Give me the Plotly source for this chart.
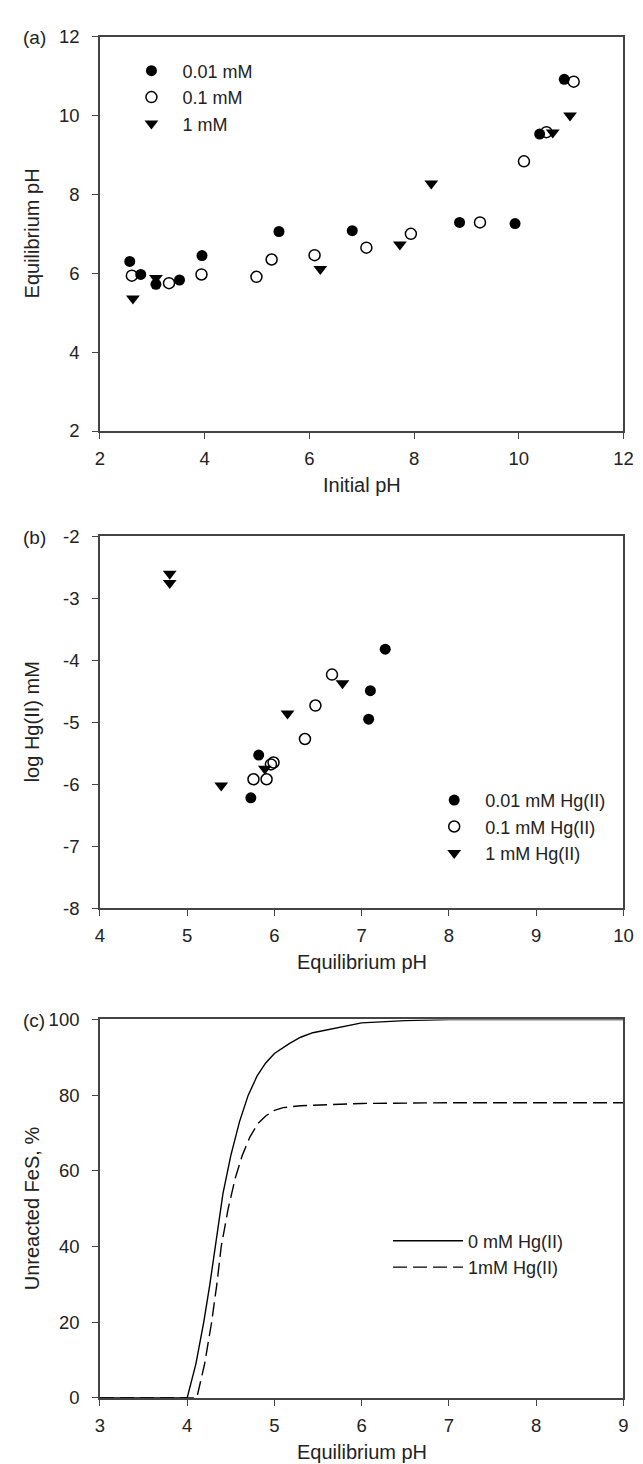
import plotly.graph_objects as go

# ---------------- Panel (a): Initial pH vs Equilibrium pH ----------------
a_001_x = [2.57, 2.78, 3.07, 3.52, 3.95, 5.42, 6.82, 8.87, 9.93, 10.40, 10.87]
a_001_y = [6.30, 5.97, 5.72, 5.83, 6.45, 7.06, 7.08, 7.29, 7.26, 9.53, 10.92]
a_01_x = [2.61, 3.32, 3.94, 4.99, 5.28, 6.10, 7.09, 7.94, 9.26, 10.10, 10.53, 11.05]
a_01_y = [5.94, 5.75, 5.97, 5.91, 6.35, 6.46, 6.65, 7.00, 7.29, 8.84, 9.58, 10.86]
a_1_x = [2.63, 3.07, 6.21, 7.73, 8.33, 10.65, 10.98]
a_1_y = [5.36, 5.88, 6.11, 6.73, 8.28, 9.57, 10.00]

# ---------------- Panel (b): Equilibrium pH vs log Hg(II) ----------------
b_001_x = [5.73, 5.82, 7.08, 7.10, 7.27]
b_001_y = [-6.22, -5.53, -4.95, -4.49, -3.82]
b_01_x = [5.76, 5.91, 5.96, 5.99, 6.35, 6.47, 6.66]
b_01_y = [-5.92, -5.92, -5.68, -5.65, -5.27, -4.73, -4.23]
b_1_x = [4.80, 4.80, 5.39, 5.89, 6.15, 6.78]
b_1_y = [-2.60, -2.75, -6.02, -5.75, -4.86, -4.37]
b_yticks = [-8, -7, -6, -5, -4, -3, -2]
b_yticklabels = ["-8", "-7", "-6", "-5", "-4", "-3", "-2"]

# ---------------- Panel (c): Unreacted FeS curves ----------------
c0_x = [3.0, 4.0, 4.1, 4.19, 4.26, 4.32, 4.41, 4.5, 4.6, 4.7, 4.8, 4.9, 5.0, 5.17, 5.3,
        5.44, 5.7, 6.0, 6.5, 7.0, 9.0]
c0_y = [0, 0, 9, 20, 30, 40, 54, 64, 73, 80, 85, 88.5, 91, 93.6, 95.3,
        96.5, 97.8, 99.1, 99.7, 100, 100]
c1_x = [3.0, 4.11, 4.2, 4.28, 4.34, 4.39, 4.47, 4.55, 4.63, 4.72, 4.81, 4.9, 5.0, 5.1,
        5.3, 5.6, 6.0, 7.0, 9.0]
c1_y = [0, 0, 9, 20, 30, 40, 50, 58, 64, 69, 72.5, 74.5, 76, 76.7,
        77.2, 77.5, 77.8, 78, 78]

FONT = "Liberation Sans, Arial, sans-serif"
TXT = "#222222"
AX = "#444444"
H = 1464.0
W = 643.0


def py(px):
    return 1 - px / H


def pxx(px):
    return px / W


fig = go.Figure()

filled = dict(symbol="circle", size=11, color="black")
opened = dict(symbol="circle-open", size=11, color="black", line=dict(width=1.5, color="black"))
tri = dict(symbol="triangle-down", size=12, color="black")

fig.add_trace(go.Scatter(x=a_001_x, y=a_001_y, mode="markers", marker=filled, name="0.01 mM",
                         xaxis="x", yaxis="y", legend="legend"))
fig.add_trace(go.Scatter(x=a_01_x, y=a_01_y, mode="markers", marker=opened, name="0.1 mM",
                         xaxis="x", yaxis="y", legend="legend"))
fig.add_trace(go.Scatter(x=a_1_x, y=a_1_y, mode="markers", marker=tri, name="1 mM",
                         xaxis="x", yaxis="y", legend="legend"))

fig.add_trace(go.Scatter(x=b_001_x, y=b_001_y, mode="markers", marker=filled, name="0.01 mM Hg(II)",
                         xaxis="x2", yaxis="y2", legend="legend2"))
fig.add_trace(go.Scatter(x=b_01_x, y=b_01_y, mode="markers", marker=opened, name="0.1 mM Hg(II)",
                         xaxis="x2", yaxis="y2", legend="legend2"))
fig.add_trace(go.Scatter(x=b_1_x, y=b_1_y, mode="markers", marker=tri, name="1 mM Hg(II)",
                         xaxis="x2", yaxis="y2", legend="legend2"))

fig.add_trace(go.Scatter(x=c0_x, y=c0_y, mode="lines", line=dict(color="black", width=1.4),
                         name="0 mM Hg(II)", xaxis="x3", yaxis="y3", legend="legend3"))
fig.add_trace(go.Scatter(x=c1_x, y=c1_y, mode="lines",
                         line=dict(color="black", width=1.4, dash="14px,6px"),
                         name="1mM Hg(II)", xaxis="x3", yaxis="y3", legend="legend3"))

xdom = [pxx(89), pxx(625)]
common = dict(showgrid=False, zeroline=False, showline=True, linecolor=AX, linewidth=1.5,
              mirror=True, ticks="outside", ticklen=6, tickwidth=1.3, tickcolor=AX,
              tickfont=dict(family=FONT, size=18.5, color=TXT))

legfont = dict(family=FONT, size=18, color=TXT)
leg_common = dict(font=legfont, bgcolor="rgba(0,0,0,0)", borderwidth=0,
                  xanchor="left", yanchor="top", tracegroupgap=0)

fig.update_layout(
    width=643, height=1464,
    margin=dict(l=0, r=0, t=0, b=0),
    paper_bgcolor="white", plot_bgcolor="white",
    font=dict(family=FONT, color=TXT),
    xaxis=dict(domain=xdom, range=[2, 12], dtick=2, tick0=2, anchor="y", ticklabelstandoff=4, **common),
    yaxis=dict(domain=[py(418), py(18)], range=[2, 12], dtick=2, tick0=2, anchor="x",
               ticklabelstandoff=9, **common),
    xaxis2=dict(domain=xdom, range=[4, 10], dtick=1, anchor="y2", ticklabelstandoff=4, **common),
    yaxis2=dict(domain=[py(902), py(525)], range=[-8, -2], tickmode="array",
                tickvals=b_yticks, ticktext=b_yticklabels, anchor="x2",
                ticklabelstandoff=9, **common),
    xaxis3=dict(domain=xdom, range=[3, 9], dtick=1, anchor="y3", ticklabelstandoff=4, **common),
    yaxis3=dict(domain=[py(1399), py(1015)], range=[0, 100], dtick=20, anchor="x3",
                ticklabelstandoff=9, **common),
    legend=dict(x=pxx(110), y=py(34), itemwidth=52, **leg_common),
    legend2=dict(x=pxx(420), y=py(774), itemwidth=52, **leg_common),
    legend3=dict(x=pxx(384), y=py(1221), itemwidth=70, **leg_common),
)

ann = []
title_font = dict(family=FONT, size=20, color=TXT)
for lbl, ypx in [("(a)", 19), ("(b)", 526), ("(c)", 1016)]:
    ann.append(dict(text=lbl, x=pxx(22), y=py(ypx), xref="paper", yref="paper",
                    showarrow=False, xanchor="center", yanchor="middle",
                    font=dict(family=FONT, size=19, color=TXT)))
for t, ypx in [("Initial pH", 473), ("Equilibrium pH", 957), ("Equilibrium pH", 1454)]:
    ann.append(dict(text=t, x=pxx(357), y=py(ypx), xref="paper", yref="paper",
                    showarrow=False, xanchor="center", yanchor="middle", font=title_font))
for t, ypx in [("Equilibrium pH", 218), ("log Hg(II) mM", 713), ("Unreacted FeS, %", 1207)]:
    ann.append(dict(text=t, x=pxx(19), y=py(ypx), xref="paper", yref="paper", textangle=-90,
                    showarrow=False, xanchor="center", yanchor="middle", font=title_font))
fig.update_layout(annotations=ann)

fig.write_html("out.html")
